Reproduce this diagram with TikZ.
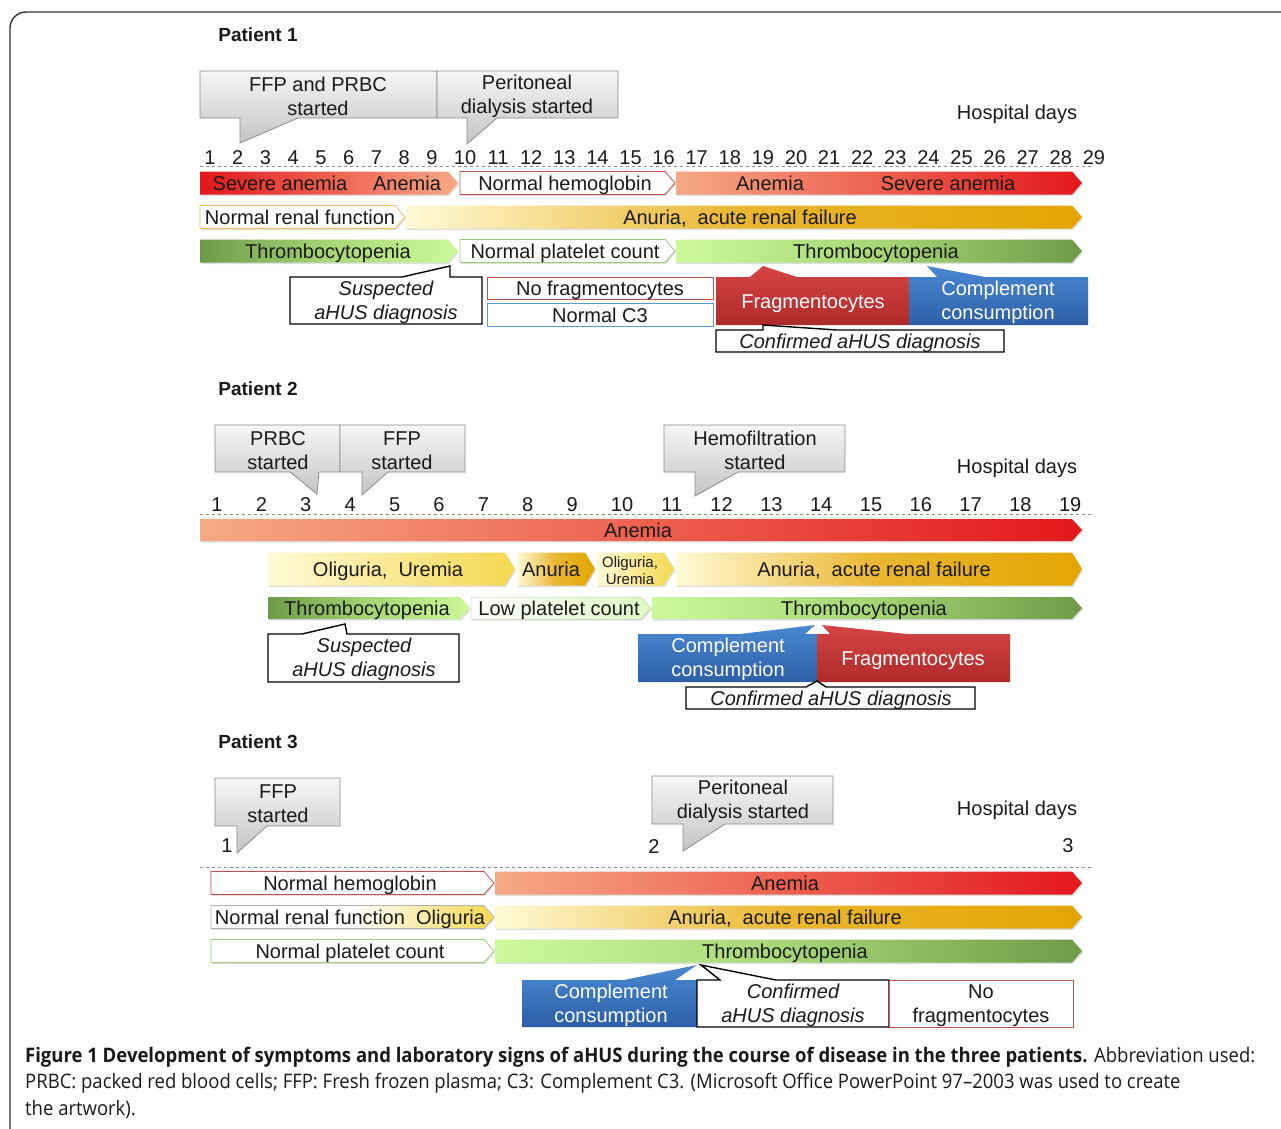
\documentclass[tikz,border=0pt]{standalone}
\usepackage{fontspec}
\setmainfont{Liberation Sans}
\newfontfamily\capfont[FakeStretch=0.925]{Open Sans}
\usetikzlibrary{shadows}
\definecolor{cred}{HTML}{E3171B}
\definecolor{csalmon}{HTML}{F6A985}
\definecolor{cylight}{HTML}{FFFAD6}
\definecolor{cymid}{HTML}{EAB630}
\definecolor{corange}{HTML}{E3A500}
\definecolor{cyel}{HTML}{F4D850}
\definecolor{cgdark}{HTML}{6F9A48}
\definecolor{cgmid}{HTML}{A6D676}
\definecolor{cglight}{HTML}{CDF99A}
\definecolor{cgpale}{HTML}{DDF9C4}
\definecolor{cbluetop}{HTML}{4A88D2}
\definecolor{cbluebot}{HTML}{2C5FA6}
\definecolor{credtop}{HTML}{D54444}
\definecolor{credbot}{HTML}{B02A2A}
\definecolor{cgraytop}{HTML}{F6F6F6}
\definecolor{cgraybot}{HTML}{C4C4C4}
\definecolor{cgrayline}{HTML}{8C8C8C}
\definecolor{bred}{HTML}{C0504D}
\definecolor{byellow}{HTML}{F0C060}
\definecolor{bgreen}{HTML}{9BCB7C}
\definecolor{bblue}{HTML}{5B9BD5}
\definecolor{ctext}{HTML}{1A1A1A}
\newcommand\barshape[5][]{\path[#1] (#2,#4-#5) -- (#3-10,#4-#5) -- (#3,#4) -- (#3-10,#4+#5) -- (#2,#4+#5) -- cycle;}
\begin{document}
\begin{tikzpicture}[x=1pt,y=-1pt,
  every node/.style={inner sep=0pt, text=ctext, align=center},
  lab/.style={font=\fontsize{20}{24}\selectfont},
  one/.style={text height=14pt, text depth=0pt},
  ml/.style={yshift=-1.5pt},
  small/.style={font=\fontsize{15}{17}\selectfont},
  ital/.style={font=\fontsize{20}{24}\selectfont\itshape},
  title/.style={font=\fontsize{19}{23}\selectfont\bfseries},
  wlab/.style={font=\fontsize{20}{24}\selectfont, text=white},
  shd/.style={drop shadow={shadow xshift=1pt,shadow yshift=-1.5pt,opacity=.25}},
  gcall/.style={draw=cgrayline, top color=cgraytop, bottom color=cgraybot, line width=0.8pt},
  wcall/.style={draw=black, fill=white, line width=1.4pt},
  bluebox/.style={top color=cbluetop, bottom color=cbluebot},
  redbox/.style={top color=credtop, bottom color=credbot},
  axis/.style={draw=cgrayline, dashed, line width=0.9pt},
  redup/.style={shd, left color=csalmon, right color=cred},
  reddown/.style={shd, left color=cred, right color=csalmon},
  renal/.style={shd, left color=cylight, right color=corange, middle color=cymid},
  greendown/.style={shd, left color=cgdark, right color=cglight, middle color=cgmid},
  greenup/.style={shd, left color=cglight, right color=cgdark, middle color=cgmid},
  wred/.style={shd, draw=bred, fill=white, line width=0.8pt},
  wyel/.style={shd, draw=byellow, fill=white, line width=0.8pt},
  wgreen/.style={shd, draw=bgreen, fill=white, line width=0.8pt}
]
\useasboundingbox (0,0) rectangle (1281,1128);
\fill[white] (0,0) rectangle (1281,1128);
% frame
\draw[line width=1.4pt, black!80, rounded corners=16pt] (10,1160) -- (10,12) -- (1320,12);

%%%%%%%%%%%%%%%% Patient 1
\node[title] (t1) at (258,35) {Patient 1};
\path[gcall] (200,71) -- (437,71) -- (437,118) -- (298,118) -- (240,143) -- (240,118) -- (200,118) -- cycle;
\path[gcall] (437,71) -- (618,71) -- (618,118) -- (497,118) -- (467,144) -- (467,118) -- (437,118) -- cycle;
\node[lab,ml] (c11) at (318,95) {FFP and PRBC\\started};
\node[lab,ml] (c12) at (527,95) {Peritoneal\\dialysis started};
\node[lab,one] (hd1) at (1017,112) {Hospital days};
\draw[axis] (200,166) -- (1092,166);
\foreach \n in {1,...,9} \node[lab] (p1d\n) at ({210+27.75*(\n-1)},158) {\n};
\foreach \n in {10,...,29} \node[lab] (p1d\n) at ({465+33.1*(\n-10)},158) {\n};

\barshape[reddown]{200}{458}{183}{11.5}
\barshape[wred]{460}{675}{183}{11.5}
\barshape[redup]{676}{1082}{183}{11.5}
\node[lab,one] (a11) at (280,183) {Severe anemia};
\node[lab,one] (a12) at (407,183) {Anemia};
\node[lab,one] (a13) at (565,183) {Normal hemoglobin};
\node[lab,one] (a14) at (770,183) {Anemia};
\node[lab,one] (a15) at (948,183) {Severe anemia};

\barshape[wyel]{200}{405}{217}{11.5}
\barshape[renal]{406}{1082}{217}{11.5}
\node[lab,one] (r11) at (300,217) {Normal renal function};
\node[lab,one] (r12) at (740,217) {Anuria,\ \ acute renal failure};

\barshape[greendown]{200}{458}{251}{11.5}
\barshape[wgreen]{460}{675}{251}{11.5}
\barshape[greenup]{676}{1082}{251}{11.5}
\node[lab,one] (g11) at (328,251) {Thrombocytopenia};
\node[lab,one] (g12) at (565,251) {Normal platelet count};
\node[lab,one] (g13) at (876,251) {Thrombocytopenia};

\path[wcall] (290,277) -- (402,277) -- (450,266) -- (450,277) -- (482,277) -- (482,324) -- (290,324) -- cycle;
\node[ital,ml] (s1) at (386,301) {Suspected\\aHUS diagnosis};
\draw[draw=bred, fill=white, line width=0.8pt] (487,277) rectangle (713,299);
\node[lab,one] (nf1) at (600,288) {No fragmentocytes};
\draw[draw=bblue, fill=white, line width=0.8pt] (487,303) rectangle (713,326);
\node[lab,one] (nc1) at (600,315) {Normal C3};
\path[redbox] (716,277) -- (750,277) -- (763,266) -- (797,277) -- (909,277) -- (909,325) -- (716,325) -- cycle;
\node[wlab,one] (f1) at (813,301) {Fragmentocytes};
\path[bluebox] (909,277) -- (937,277) -- (927,266) -- (985,277) -- (1088,277) -- (1088,325) -- (909,325) -- cycle;
\node[wlab,ml] (cc1) at (998,301) {Complement\\consumption};
\path[wcall] (716,330) -- (763,330) -- (763,325) -- (837,330) -- (1004,330) -- (1004,352) -- (716,352) -- cycle;
\node[ital,one] (cf1) at (860,341) {Confirmed aHUS diagnosis};

%%%%%%%%%%%%%%%% Patient 2
\node[title] (t2) at (258,389) {Patient 2};
\path[gcall] (215,425) -- (340,425) -- (340,472) -- (319,472) -- (317,494) -- (290,472) -- (215,472) -- cycle;
\path[gcall] (340,425) -- (465,425) -- (465,472) -- (388,472) -- (362,495) -- (362,472) -- (340,472) -- cycle;
\path[gcall] (664,425) -- (845,425) -- (845,472) -- (738,472) -- (695,496) -- (695,472) -- (664,472) -- cycle;
\node[lab,ml] (c21) at (278,449) {PRBC\\started};
\node[lab,ml] (c22) at (402,449) {FFP\\started};
\node[lab,ml] (c23) at (755,449) {Hemofiltration\\started};
\node[lab,one] (hd2) at (1017,466) {Hospital days};
\draw[axis] (200,514) -- (1092,514);
\foreach \n in {1,...,9} \node[lab] (p2d\n) at ({217+44.4*(\n-1)},505) {\n};
\foreach \n in {10,...,19} \node[lab] (p2d\n) at ({622+49.8*(\n-10)},505) {\n};

\barshape[redup]{200}{1082}{530}{11}
\node[lab,one] (a21) at (638,530) {Anemia};

\barshape[shd, left color=cylight, right color=cyel]{268}{515}{569}{16.5}
\barshape[shd, left color=cylight, right color=corange, middle color=cymid]{517}{595}{569}{16.5}
\barshape[shd, left color=cylight, right color=cyel]{597}{674}{569}{16.5}
\barshape[renal]{676}{1082}{569}{16.5}
\node[lab,one] (r21) at (388,569) {Oliguria,\ \ Uremia};
\node[lab,one] (r22) at (551,569) {Anuria};
\node[small,ml] (r23) at (630,569) {Oliguria,\\Uremia};
\node[lab,one] (r24) at (874,569) {Anuria,\ \ acute renal failure};

\barshape[greendown]{268}{470}{608}{11}
\barshape[shd, left color=white, right color=cgpale, draw=cgpale!70!gray, line width=0.5pt]{471}{651}{608}{11}
\barshape[greenup]{652}{1082}{608}{11}
\node[lab,one] (g21) at (367,608) {Thrombocytopenia};
\node[lab,one] (g22) at (559,608) {Low platelet count};
\node[lab,one] (g23) at (864,608) {Thrombocytopenia};

\path[wcall] (268,634) -- (302,634) -- (345,624) -- (347,634) -- (459,634) -- (459,682) -- (268,682) -- cycle;
\node[ital,ml] (s2) at (364,658) {Suspected\\aHUS diagnosis};
\path[bluebox] (638,634) -- (740,634) -- (815,625) -- (805,634) -- (817,634) -- (817,682) -- (638,682) -- cycle;
\node[wlab,ml] (cc2) at (728,658) {Complement\\consumption};
\path[redbox] (817,634) -- (830,634) -- (822,625) -- (907,634) -- (1010,634) -- (1010,682) -- (817,682) -- cycle;
\node[wlab,one] (f2) at (913,658) {Fragmentocytes};
\path[wcall] (686,687) -- (806,687) -- (817,681) -- (826,687) -- (975,687) -- (975,709) -- (686,709) -- cycle;
\node[ital,one] (cf2) at (831,698) {Confirmed aHUS diagnosis};

%%%%%%%%%%%%%%%% Patient 3
\node[title] (t3) at (258,742) {Patient 3};
\path[gcall] (215,778) -- (340,778) -- (340,826) -- (267,826) -- (237,853) -- (237,826) -- (215,826) -- cycle;
\path[gcall] (652,776) -- (833,776) -- (833,824) -- (725,824) -- (683,851) -- (683,824) -- (652,824) -- cycle;
\node[lab,ml] (c31) at (278,802) {FFP\\started};
\node[lab,ml] (c32) at (743,800) {Peritoneal\\dialysis started};
\node[lab,one] (hd3) at (1017,808) {Hospital days};
\node[lab] (p3d1) at (227,846) {1};
\node[lab] (p3d2) at (654,846) {2};
\node[lab] (p3d3) at (1068,846) {3};
\draw[axis] (200,867) -- (1092,867);

\barshape[wred]{211}{494}{883}{11.5}
\barshape[redup]{495}{1082}{883}{11.5}
\node[lab,one] (a31) at (350,883) {Normal hemoglobin};
\node[lab,one] (a32) at (785,883) {Anemia};

\barshape[shd, left color=white, right color=cyel, middle color=white, draw=gray!60, line width=0.6pt]{211}{494}{917}{11.5}
\barshape[renal]{495}{1082}{917}{11.5}
\node[lab,one] (r31) at (350,917) {Normal renal function\ \ Oliguria};
\node[lab,one] (r32) at (785,917) {Anuria,\ \ acute renal failure};

\barshape[wgreen]{211}{494}{951}{11.5}
\barshape[greenup]{495}{1082}{951}{11.5}
\node[lab,one] (g31) at (350,951) {Normal platelet count};
\node[lab,one] (g32) at (785,951) {Thrombocytopenia};

\path[bluebox] (522,980) -- (624,980) -- (697,965) -- (675,980) -- (697,980) -- (697,1027) -- (522,1027) -- cycle;
\node[wlab,ml] (cc3) at (611,1004) {Complement\\consumption};
\path[wcall] (697,980) -- (720,980) -- (701,965) -- (776,980) -- (889,980) -- (889,1027) -- (697,1027) -- cycle;
\node[ital,ml] (cf3) at (793,1004) {Confirmed\\aHUS diagnosis};
\draw[draw=bred, fill=white, line width=0.8pt] (889,980) rectangle (1073,1027);
\node[lab,ml] (nf3) at (981,1004) {No\\fragmentocytes};

%%%%%%%%%%%%%%%% Caption
\node[anchor=west, font=\capfont\fontsize{20}{24}\selectfont] (cap1) at (25,1057) {{\bfseries Figure 1 Development of symptoms and laboratory signs of aHUS during the course of disease in the three patients.} Abbreviation used:};
\node[anchor=west, font=\capfont\fontsize{20}{24}\selectfont] (cap2) at (25,1083) {PRBC: packed red blood cells; FFP: Fresh frozen plasma; C3: Complement C3. (Microsoft Office PowerPoint 97–2003 was used to create};
\node[anchor=west, font=\capfont\fontsize{20}{24}\selectfont] (cap3) at (25,1109) {the artwork).};
\end{tikzpicture}
\end{document}
